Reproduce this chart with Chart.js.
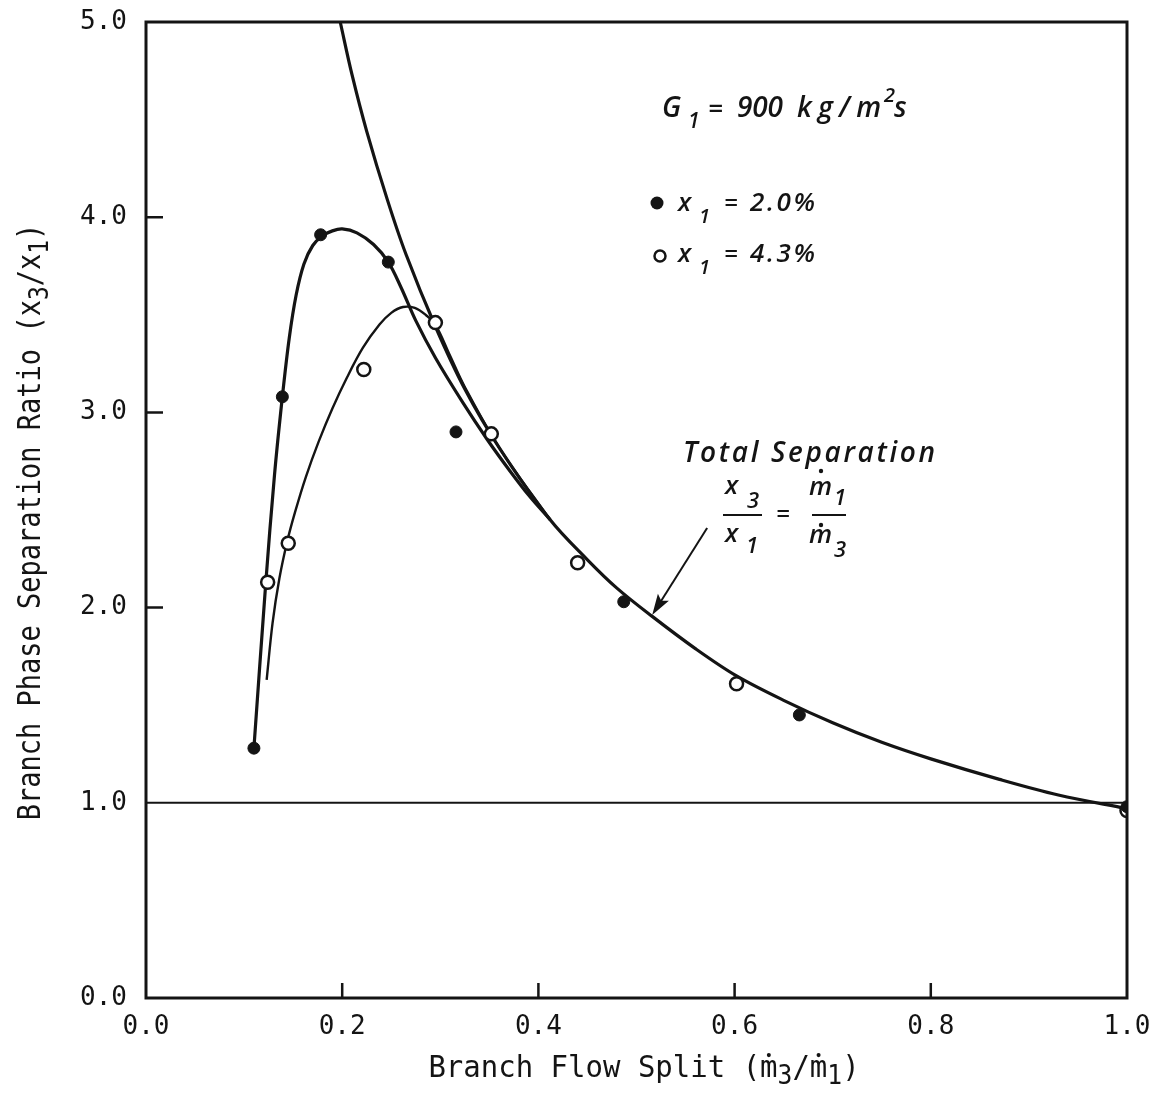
<!DOCTYPE html>
<html><head><meta charset="utf-8">
<script src="https://cdn.jsdelivr.net/npm/chart.js@4"></script>
<style>html,body{margin:0;padding:0;background:#fff;}</style>
</head><body>
<canvas id="c" width="1156" height="1102"></canvas>
<script>
// ---------- data ----------
const xTickValues = [0.0, 0.2, 0.4, 0.6, 0.8, 1.0];
const yTickValues = [0, 1, 2, 3, 4, 5];

// x1 = 2.0 % (filled circles)
const filledX = [0.110, 0.139, 0.178, 0.247, 0.316, 0.487, 0.666, 1.000];
const filledY = [1.28, 3.08, 3.91, 3.77, 2.90, 2.03, 1.45, 0.98];
// x1 = 4.3 % (open circles)
const openX = [0.124, 0.145, 0.222, 0.295, 0.352, 0.440, 0.602, 1.000];
const openY = [2.13, 2.33, 3.22, 3.46, 2.89, 2.23, 1.61, 0.96];

// fitted curve through the 2.0 % data
const curve20X = [0.110, 0.122, 0.131, 0.139, 0.146, 0.153, 0.161, 0.170, 0.180, 0.190, 0.200, 0.215, 0.232, 0.247, 0.260, 0.275, 0.295, 0.323, 0.348, 0.371, 0.391, 0.412];
const curve20Y = [1.28, 2.12, 2.68, 3.08, 3.38, 3.60, 3.76, 3.855, 3.905, 3.93, 3.94, 3.92, 3.86, 3.77, 3.64, 3.47, 3.28, 3.05, 2.86, 2.70, 2.57, 2.45];
// fitted curve through the 4.3 % data
const curve43X = [0.123, 0.129, 0.136, 0.144, 0.152, 0.163, 0.176, 0.190, 0.205, 0.221, 0.238, 0.250, 0.262, 0.274, 0.285, 0.295, 0.310, 0.325, 0.360, 0.412];
const curve43Y = [1.63, 1.92, 2.15, 2.34, 2.49, 2.67, 2.85, 3.02, 3.18, 3.33, 3.45, 3.51, 3.54, 3.535, 3.50, 3.45, 3.29, 3.13, 2.82, 2.45];
// total separation line  x3/x1 = m1/m3
const totalX = [0.198, 0.210, 0.225, 0.246, 0.265, 0.295, 0.325, 0.360, 0.412, 0.450, 0.480, 0.516, 0.560, 0.602, 0.650, 0.700, 0.750, 0.800, 0.870, 0.930, 1.000];
const totalY = [5.00, 4.73, 4.44, 4.09, 3.81, 3.44, 3.12, 2.82, 2.45, 2.245, 2.10, 1.955, 1.79, 1.65, 1.525, 1.41, 1.31, 1.225, 1.12, 1.04, 0.97];
// reference line x3/x1 = 1
const unityX = [0.0, 1.0];
const unityY = [1.0, 1.0];

const pts = (xs, ys) => xs.map((x, i) => ({x, y: ys[i]}));
const INK = '#141414';
const MONO = '"DejaVu Sans Mono", monospace';
const ITAL = '"Open Sans", sans-serif';

function lineDs(xs, ys, w, order) {
  return {data: pts(xs, ys), showLine: true, borderColor: INK, borderWidth: w,
    pointRadius: 0, pointHoverRadius: 0, tension: 0.35, order, clip: 2};
}

// ---------- drawing helpers for annotations ----------
function txt(ctx, s, x, y, size, opt = {}) {
  ctx.save();
  ctx.font = `italic 600 ${size}px ${ITAL}`;
  ctx.fillStyle = INK;
  ctx.textBaseline = 'alphabetic';
  ctx.textAlign = 'left';
  if (opt.width && s.length > 1) {
    const w0 = ctx.measureText(s).width;
    const sp = (opt.width - w0) / (s.length - 1);
    let cx = x;
    for (const ch of s) { ctx.fillText(ch, cx, y); cx += ctx.measureText(ch).width + sp; }
  } else ctx.fillText(s, x, y);
  ctx.restore();
}
function hline(ctx, x1, x2, y, w) {
  ctx.save(); ctx.strokeStyle = INK; ctx.lineWidth = w;
  ctx.beginPath(); ctx.moveTo(x1, y); ctx.lineTo(x2, y); ctx.stroke(); ctx.restore();
}
function dot(ctx, x, y, r) { ctx.save(); ctx.fillStyle = INK; ctx.beginPath(); ctx.arc(x, y, r, 0, 7); ctx.fill(); ctx.restore(); }

// sequence of runs in monospace with sub-scripts, drawn centred
function monoRuns(ctx, runs, size, sx, sy) {
  ctx.save();
  ctx.scale(sx, sy);
  ctx.fillStyle = INK; ctx.textBaseline = 'alphabetic'; ctx.textAlign = 'left';
  let total = 0;
  for (const r of runs) { ctx.font = `${size * (r.s || 1)}px ${MONO}`; total += ctx.measureText(r.t).width; }
  let x = -total / 2;
  for (const r of runs) {
    ctx.font = `${size * (r.s || 1)}px ${MONO}`;
    ctx.fillText(r.t, x, (r.dy || 0));
    if (r.dot) {
      const w = ctx.measureText('m').width;
      ctx.beginPath(); ctx.arc(x + w / 2, -size * 0.72, size * 0.07, 0, 7); ctx.fill();
    }
    x += ctx.measureText(r.t).width;
  }
  ctx.restore();
}

const decor = {
  id: 'decor',
  afterDatasetsDraw(chart) {
    const {ctx, chartArea: a, scales: {x, y}} = chart;
    ctx.save();
    ctx.strokeStyle = INK; ctx.lineWidth = 3;
    ctx.strokeRect(a.left, a.top, a.right - a.left, a.bottom - a.top);
    ctx.lineWidth = 2.5;
    ctx.beginPath();
    xTickValues.forEach(v => { if (v > 0 && v < 1) { const p = x.getPixelForValue(v); ctx.moveTo(p, a.bottom); ctx.lineTo(p, a.bottom - 15); } });
    yTickValues.forEach(v => { if (v > 1 && v < 5) { const p = y.getPixelForValue(v); ctx.moveTo(a.left, p); ctx.lineTo(a.left + 17, p); } });
    ctx.stroke();
    ctx.restore();

    // ---- parameter / legend text ----
    txt(ctx, 'G', 662, 117, 28);
    txt(ctx, '1', 688, 128, 21);
    txt(ctx, '=', 708, 117, 26);
    txt(ctx, '900', 737, 117, 28, {width: 46});
    txt(ctx, 'kg/m', 797, 117, 28, {width: 84});
    txt(ctx, '2', 884, 102, 20);
    txt(ctx, 's', 894, 117, 28);

    dot(ctx, 657, 203, 6.5);
    txt(ctx, 'x', 678, 211, 26);
    txt(ctx, '1', 699, 223, 20);
    txt(ctx, '=', 724, 211, 24);
    txt(ctx, '2.0%', 750, 211, 26, {width: 65});

    ctx.save(); ctx.strokeStyle = INK; ctx.lineWidth = 2.5; ctx.fillStyle = '#fff';
    ctx.beginPath(); ctx.arc(660, 256, 5.5, 0, 7); ctx.fill(); ctx.stroke(); ctx.restore();
    txt(ctx, 'x', 678, 262, 26);
    txt(ctx, '1', 699, 274, 20);
    txt(ctx, '=', 724, 262, 24);
    txt(ctx, '4.3%', 750, 262, 26, {width: 65});

    // ---- total separation label ----
    txt(ctx, 'Total Separation', 683, 462, 28, {width: 252});
    txt(ctx, 'x', 725, 494, 26);
    txt(ctx, '3', 747, 508, 22);
    hline(ctx, 723, 762, 515, 2);
    txt(ctx, 'x', 725, 542, 26);
    txt(ctx, '1', 746, 553, 22);
    txt(ctx, '=', 776, 522, 24);
    txt(ctx, 'm', 809, 495, 26); dot(ctx, 821, 471, 2.2);
    txt(ctx, '1', 834, 505, 22);
    hline(ctx, 812, 846, 515, 2);
    txt(ctx, 'm', 809, 543, 26); dot(ctx, 821, 525, 2.2);
    txt(ctx, '3', 834, 557, 22);

    // arrow
    const tipX = x.getPixelForValue(0.516), tipY = y.getPixelForValue(1.962);
    const tailX = x.getPixelForValue(0.572), tailY = y.getPixelForValue(2.408);
    const ang = Math.atan2(tipY - tailY, tipX - tailX);
    ctx.save(); ctx.strokeStyle = INK; ctx.fillStyle = INK; ctx.lineWidth = 2;
    ctx.beginPath(); ctx.moveTo(tailX, tailY); ctx.lineTo(tipX - 14 * Math.cos(ang), tipY - 14 * Math.sin(ang)); ctx.stroke();
    ctx.translate(tipX, tipY); ctx.rotate(ang);
    ctx.beginPath(); ctx.moveTo(0, 0); ctx.lineTo(-21, -6.5); ctx.lineTo(-17, 0); ctx.lineTo(-21, 6.5); ctx.closePath(); ctx.fill();
    ctx.restore();

    // ---- axis titles ----
    ctx.save();
    ctx.translate(644, 1077);
    monoRuns(ctx, [{t: 'Branch Flow Split ('}, {t: 'm', dot: true}, {t: '3', s: 0.85, dy: 7}, {t: '/'}, {t: 'm', dot: true}, {t: '1', s: 0.85, dy: 7}, {t: ')'}], 29, 1, 1.05);
    ctx.restore();

    ctx.save();
    ctx.translate(40, 522);
    ctx.rotate(-Math.PI / 2);
    monoRuns(ctx, [{t: 'Branch Phase Separation Ratio (x'}, {t: '3', s: 0.85, dy: 7}, {t: '/x'}, {t: '1', s: 0.85, dy: 7}, {t: ')'}], 27, 1, 1.15);
    ctx.restore();
  }
};

new Chart(document.getElementById('c'), {
  type: 'scatter',
  data: {
    datasets: [
      {data: pts(filledX, filledY), backgroundColor: INK, borderColor: INK, pointRadius: 6, pointHoverRadius: 6, pointBorderWidth: 1, order: 0},
      {data: pts(openX, openY), backgroundColor: '#fff', borderColor: INK, pointRadius: 6.5, pointHoverRadius: 6.5, pointBorderWidth: 2.5, order: 0},
      lineDs(curve20X, curve20Y, 3.2, 2),
      lineDs(curve43X, curve43Y, 2.4, 2),
      lineDs(totalX, totalY, 3.2, 2),
      {data: pts(unityX, unityY), showLine: true, borderColor: INK, borderWidth: 2, pointRadius: 0, order: 3}
    ]
  },
  options: {
    responsive: false, animation: false, devicePixelRatio: 1,
    layout: {padding: {left: 0, top: 22, right: 29, bottom: 0}},
    plugins: {legend: {display: false}, tooltip: {enabled: false}},
    scales: {
      x: {type: 'linear', min: 0, max: 1,
        afterBuildTicks: s => { s.ticks = xTickValues.map(v => ({value: v})); },
        afterFit: s => { s.height = 104; s.paddingLeft = 0; s.paddingRight = 0; },
        grid: {display: false, drawTicks: false}, border: {display: false},
        ticks: {padding: 14, color: INK, font: {family: MONO, size: 26}, callback: v => v.toFixed(1), maxRotation: 0, autoSkip: false}
      },
      y: {type: 'linear', min: 0, max: 5,
        afterBuildTicks: s => { s.ticks = yTickValues.map(v => ({value: v})); },
        afterFit: s => { s.width = 146; s.paddingTop = 0; s.paddingBottom = 0; },
        grid: {display: false, drawTicks: false}, border: {display: false},
        ticks: {padding: 19, color: INK, font: {family: MONO, size: 26}, callback: v => v.toFixed(1), autoSkip: false}
      }
    }
  },
  plugins: [decor]
});
</script>
</body></html>
